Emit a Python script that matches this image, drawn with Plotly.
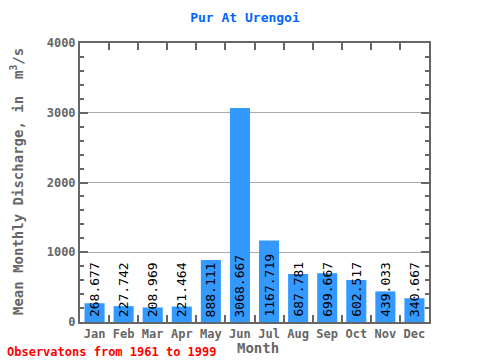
import plotly.graph_objects as go

months = ["Jan", "Feb", "Mar", "Apr", "May", "Jun", "Jul", "Aug", "Sep", "Oct", "Nov", "Dec"]
discharge = [268.677, 227.742, 208.969, 221.464, 888.111, 3068.667, 1167.719, 687.781, 699.667, 602.517, 439.033, 340.667]
labels = ["268.677", "227.742", "208.969", "221.464", "888.111", "3068.667", "1167.719", "687.781", "699.667", "602.517", "439.033", "340.667"]

MONO = "DejaVu Sans Mono, Liberation Mono, monospace"
GRAY = "#666666"
L, R, T, B = 80, 51, 43, 38
PW, PH = 480 - L - R, 360 - T - B

fig = go.Figure()
fig.add_trace(go.Bar(x=months, y=discharge, marker=dict(color="#3399ff", line=dict(width=0)), width=0.69))

for m, v, t in zip(months, discharge, labels):
    fig.add_annotation(x=m, y=0, text=t, textangle=-90, showarrow=False,
                       xanchor="center", yanchor="bottom", yshift=3,
                       font=dict(family=MONO, size=13, color="black"))

fig.update_layout(
    width=480, height=360,
    margin=dict(l=L, r=R, t=T, b=B, autoexpand=False),
    paper_bgcolor="white", plot_bgcolor="white",
    showlegend=False,
    bargap=0.31,
    title=dict(text="<b>Pur At Urengoi</b>", x=245 / 480, xanchor="center", xref="container", y=1 - 17 / 360, yanchor="middle",
               font=dict(family=MONO, size=13, color="#0066ff")),
    xaxis=dict(
        showline=True, linecolor=GRAY, linewidth=2, mirror="allticks", automargin=False,
        ticks="inside", ticklen=7, tickcolor=GRAY, tickwidth=2, tickson="boundaries",
        tickangle=0,
        tickfont=dict(family=MONO, size=12, color=GRAY, weight="bold"),
        showgrid=False,
    ),
    yaxis=dict(
        range=[0, 4000], showline=True, linecolor=GRAY, linewidth=2, mirror="allticks", automargin=False,
        ticks="inside", ticklen=8, tickcolor=GRAY, tickwidth=2, dtick=1000,
        tickfont=dict(family=MONO, size=12, color=GRAY, weight="bold"),
        showgrid=True, gridcolor="#aaaaaa", gridwidth=1,
        minor=dict(dtick=200, ticks="inside", ticklen=4, tickcolor=GRAY, tickwidth=2, showgrid=False),
        zeroline=False,
    ),
)

fig.add_annotation(xref="paper", yref="paper", x=(258 - L) / PW, y=-(348 - (T + PH)) / PH,
                   text="<b>Month</b>", showarrow=False, xanchor="center", yanchor="middle",
                   font=dict(family=MONO, size=14, color=GRAY))
fig.add_annotation(xref="paper", yref="paper", x=(17 - L) / PW, y=(T + PH - 182) / PH,
                   text="<b>Mean Monthly Discharge, in  m<sup>3</sup>/s</b>", textangle=-90,
                   showarrow=False, xanchor="center", yanchor="middle",
                   font=dict(family=MONO, size=14, color=GRAY))
fig.add_annotation(xref="paper", yref="paper", x=(5 - L) / PW, y=-(352 - (T + PH)) / PH,
                   text="<b>Observatons from 1961 to 1999</b>",
                   showarrow=False, xanchor="left", yanchor="middle",
                   font=dict(family=MONO, size=12, color="red"))

fig.write_html("out.html", config={"displayModeBar": False},
               post_script="document.body.style.margin='0';document.body.style.overflow='hidden';")
